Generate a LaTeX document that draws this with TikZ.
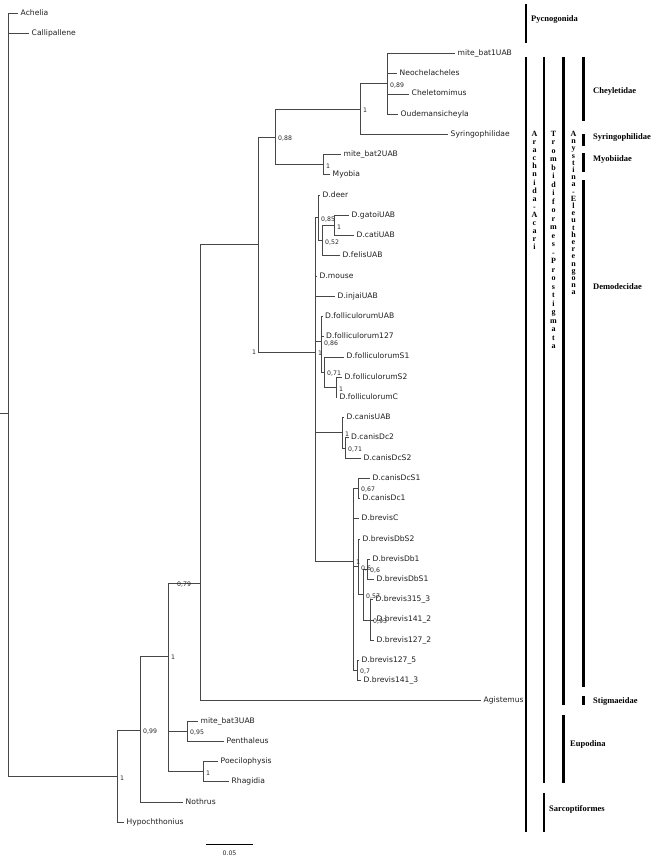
\documentclass[tikz,border=0pt]{standalone}
\usepackage{fontspec}
\setmainfont{Liberation Serif}
\newfontfamily\tipfam{DejaVu Sans}
\newfontfamily\grpfam{Liberation Serif}
\newcommand\tipnode[4]{\node[tip] (#1) at (#2) {#3};\draw[br] (#4) |- (#1.west);}
\newcommand\suplabel[3]{\node[supp] (#1) at (#2) {#3};}
\begin{document}
\begin{tikzpicture}[x=1pt,y=-1pt,
  br/.style={draw=black!72, line width=0.75pt},
  tip/.style={anchor=west, inner xsep=2.5pt, inner ysep=0pt, text height=5.6pt, text depth=1.5pt, font=\tipfam\fontsize{7.6}{9}\selectfont, text=black!88},
  supp/.style={anchor=west, inner sep=0pt, font=\tipfam\fontsize{6.2}{7}\selectfont, text=black!85},
  bar/.style={line width=2.4pt, black},
  grp/.style={anchor=west, inner sep=0pt, font=\grpfam\bfseries\fontsize{8.5}{10}\selectfont},
  vgrp/.style={anchor=north, inner sep=0pt, align=center}
]
\useasboundingbox (0,0) rectangle (660,864);
\fill[white] (0,0) rectangle (660,864);

% internal nodes
\coordinate (rstub) at (0,413);
\coordinate (root) at (8,413);
\coordinate (Ning) at (117,776.3);
\coordinate (N99) at (140,730.3);
\coordinate (G) at (168,656);
\coordinate (P) at (200,583);
\coordinate (Q) at (258,244);
\coordinate (D) at (315,352);
\coordinate (N88) at (275,136.9);
\coordinate (N1c) at (360,109.1);
\coordinate (N89) at (387,83.8);
\coordinate (Nmyo) at (323,164.7);
\coordinate (N85) at (318,217.8);
\coordinate (N52) at (322,240.6);
\coordinate (Ngc) at (334,225.4);
\coordinate (Nfol) at (321,341.7);
\coordinate (N71) at (324,372.1);
\coordinate (Nsc) at (336,387.3);
\coordinate (Ncan) at (342,432.8);
\coordinate (Ncan2) at (345,447.9);
\coordinate (Nbrev) at (353,561.1);
\coordinate (N67) at (358,488.4);
\coordinate (NX) at (358,566.8);
\coordinate (N57) at (363,594.6);
\coordinate (N6) at (367,569.3);
\coordinate (N93) at (370,619.9);
\coordinate (N7) at (357,670.5);
\coordinate (NE) at (187,731.2);
\coordinate (NF) at (203,771.6);

% internal edges
\draw[br] (rstub) -- (root);
\foreach \a/\b in {root/Ning, Ning/N99, N99/G, G/P, P/Q, Q/N88, Q/D, N88/N1c, N88/Nmyo, N1c/N89,
  D/N85, N85/N52, N52/Ngc, D/Nfol, Nfol/N71, N71/Nsc, D/Ncan, Ncan/Ncan2, D/Nbrev, Nbrev/N67,
  Nbrev/NX, NX/N57, N57/N6, N57/N93, Nbrev/N7, G/NE, G/NF}
  \draw[br] (\a) |- (\b);

% tips
\tipnode{t1}{18,13}{Achelia}{root}
\tipnode{t2}{29,33.23}{Callipallene}{root}
\tipnode{t3}{455,53.46}{mite\_bat1UAB}{N89}
\tipnode{t4}{397,73.69}{Neochelacheles}{N89}
\tipnode{t5}{409,93.92}{Cheletomimus}{N89}
\tipnode{t6}{398,114.15}{Oudemansicheyla}{N89}
\tipnode{t7}{448,134.38}{Syringophilidae}{N1c}
\tipnode{t8}{341,154.61}{mite\_bat2UAB}{Nmyo}
\tipnode{t9}{330,174.84}{Myobia}{Nmyo}
\tipnode{t10}{320,195.07}{D.deer}{N85}
\tipnode{t11}{349,215.3}{D.gatoiUAB}{Ngc}
\tipnode{t12}{354,235.53}{D.catiUAB}{Ngc}
\tipnode{t13}{340,255.76}{D.felisUAB}{N52}
\tipnode{t14}{317,275.99}{D.mouse}{D}
\tipnode{t15}{335,296.22}{D.injaiUAB}{D}
\tipnode{t16}{322.5,316.45}{D.folliculorumUAB}{Nfol}
\tipnode{t17}{323.5,336.68}{D.folliculorum127}{Nfol}
\tipnode{t18}{344,356.91}{D.folliculorumS1}{N71}
\tipnode{t19}{342,377.14}{D.folliculorumS2}{Nsc}
\tipnode{t20}{337,397.37}{D.folliculorumC}{Nsc}
\tipnode{t21}{344,417.6}{D.canisUAB}{Ncan}
\tipnode{t22}{348.5,437.83}{D.canisDc2}{Ncan2}
\tipnode{t23}{361,458.06}{D.canisDcS2}{Ncan2}
\tipnode{t24}{370,478.29}{D.canisDcS1}{N67}
\tipnode{t25}{360,498.52}{D.canisDc1}{N67}
\tipnode{t26}{359,518.75}{D.brevisC}{Nbrev}
\tipnode{t27}{360,538.98}{D.brevisDbS2}{NX}
\tipnode{t28}{370,559.21}{D.brevisDb1}{N6}
\tipnode{t29}{374,579.44}{D.brevisDbS1}{N6}
\tipnode{t30}{373,599.67}{D.brevis315\_3}{N93}
\tipnode{t31}{374,619.9}{D.brevis141\_2}{N93}
\tipnode{t32}{374,640.13}{D.brevis127\_2}{N93}
\tipnode{t33}{359,660.36}{D.brevis127\_5}{N7}
\tipnode{t34}{361,680.59}{D.brevis141\_3}{N7}
\tipnode{t35}{481,700.82}{Agistemus}{P}
\tipnode{t36}{198,721.05}{mite\_bat3UAB}{NE}
\tipnode{t37}{224,741.28}{Penthaleus}{NE}
\tipnode{t38}{218,761.51}{Poecilophysis}{NF}
\tipnode{t39}{229,781.74}{Rhagidia}{NF}
\tipnode{t40}{183,801.97}{Nothrus}{N99}
\tipnode{t41}{124,822.2}{Hypochthonius}{Ning}

% support values
\suplabel{s1}{390,85.3}{0,89}
\suplabel{s2}{363,110.6}{1}
\suplabel{s3}{278,138.4}{0,88}
\suplabel{s4}{326,166.2}{1}
\suplabel{s5}{321,219.3}{0,85}
\suplabel{s6}{337,226.9}{1}
\suplabel{s7}{325,242.1}{0,52}
\suplabel{s8}{324,343.2}{0,86}
\suplabel{s9}{318,353.5}{1}
\suplabel{s10}{327,373.6}{0,71}
\suplabel{s11}{339,388.8}{1}
\suplabel{s12}{345,434.3}{1}
\suplabel{s13}{348,449.4}{0,71}
\suplabel{s14}{361,489.9}{0,67}
\suplabel{s15}{356,562.6}{1}
\suplabel{s16}{361,568.3}{0,6}
\suplabel{s17}{370,570.8}{0,6}
\suplabel{s18}{366,596.1}{0,57}
\suplabel{s19}{373,621.4}{0,93}
\suplabel{s20}{360,672}{0,7}
\suplabel{s21}{177,585}{0,79}
\suplabel{s22}{171,657.5}{1}
\suplabel{s23}{143,731.8}{0,99}
\suplabel{s24}{190,732.7}{0,95}
\suplabel{s25}{206,773.1}{1}
\suplabel{s26}{120,777.8}{1}
\suplabel{s27}{252,352}{1}

% scale bar
\coordinate (sb1) at (206,844);
\coordinate (sb2) at (253,844);
\draw[br,draw=black] (sb1) -- (sb2);
\node[supp, anchor=center] (sbl) at (229.5,853.5) {0.05};

% group bars
\draw[bar] (526,4) -- (526,43);
\draw[bar] (526,57) -- (526,832);
\draw[bar] (544,57) -- (544,783);
\draw[bar] (544,793) -- (544,832);
\draw[bar] (563.5,57) -- (563.5,705);
\draw[bar] (563.5,715) -- (563.5,783);
\draw[bar] (583.5,57) -- (583.5,121);
\draw[bar] (583.5,134) -- (583.5,146);
\draw[bar] (583.5,153) -- (583.5,172);
\draw[bar] (583.5,180) -- (583.5,687);
\draw[bar] (583.5,696) -- (583.5,705);

% group labels
\node[grp] (g1) at (531,19) {Pycnogonida};
\node[grp] (g2) at (593,91) {Cheyletidae};
\node[grp] (g3) at (593,137) {Syringophilidae};
\node[grp] (g4) at (593,159) {Myobiidae};
\node[grp] (g5) at (593,287) {Demodecidae};
\node[grp] (g6) at (593,701) {Stigmaeidae};
\node[grp] (g7) at (570,744) {Eupodina};
\node[grp] (g8) at (549,809) {Sarcoptiformes};

\node[vgrp, font=\grpfam\bfseries\fontsize{8}{8.1}\selectfont] (v1) at (534.5,131)
 {A\\r\\a\\c\\h\\n\\i\\d\\a\\-\\A\\c\\a\\r\\i};
\node[vgrp, font=\grpfam\bfseries\fontsize{8}{8.5}\selectfont] (v2) at (553.5,131)
 {T\\r\\o\\m\\b\\i\\d\\i\\f\\o\\r\\m\\e\\s\\-\\P\\r\\o\\s\\t\\i\\g\\m\\a\\t\\a};
\node[vgrp, font=\grpfam\bfseries\fontsize{8}{7.2}\selectfont] (v3) at (573.5,131)
 {A\\n\\y\\s\\t\\i\\n\\a\\-\\E\\l\\e\\u\\t\\h\\e\\r\\e\\n\\g\\o\\n\\a};
\end{tikzpicture}
\end{document}
